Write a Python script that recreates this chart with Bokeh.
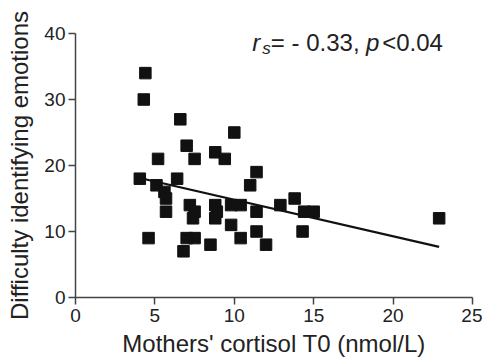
from bokeh.plotting import figure
from bokeh.models import Label, Range1d, FixedTicker
from bokeh.embed import file_html
from bokeh.resources import INLINE

# Data
cortisol = [4.4, 4.3, 6.6, 10.0, 7.0, 8.8, 5.2, 7.5, 9.4, 4.05, 6.4, 5.1, 11.0, 11.4,
            5.6, 5.7, 13.8, 7.2, 8.8, 9.8, 10.4, 12.9, 5.7, 7.5, 8.9, 11.4, 14.4, 15.0,
            7.4, 8.8, 22.9, 9.8, 11.4, 14.3, 4.6, 7.0, 7.5, 10.4, 8.5, 12.0, 6.8]
difficulty = [34, 30, 27, 25, 23, 22, 21, 21, 21, 18, 18, 17, 17, 19,
              16, 15, 15, 14, 14, 14, 14, 14, 13, 13, 13, 13, 13, 13,
              12, 12, 12, 11, 10, 10, 9, 9, 9, 9, 8, 8, 7]
fit_x = [4.05, 22.9]
fit_y = [18.1, 7.66]
x_ticks = [0, 5, 10, 15, 20, 25]
y_ticks = [0, 10, 20, 30, 40]

FONT = "Liberation Sans"
TXT = "#222222"

p = figure(width=482, height=361, output_backend="svg", toolbar_location=None,
           x_range=Range1d(0, 25), y_range=Range1d(0, 40),
           min_border_left=75, min_border_right=10, min_border_top=33, min_border_bottom=64)
p.outline_line_color = None
p.xgrid.visible = False
p.ygrid.visible = False
p.background_fill_color = "white"
p.border_fill_color = "white"

p.scatter(cortisol, difficulty, marker="square", size=11.5, fill_color="#111111",
          line_color="#111111")
p.line(fit_x, fit_y, line_color="#111111", line_width=2.2)

for ax, ticks in ((p.xaxis[0], x_ticks), (p.yaxis[0], y_ticks)):
    ax.ticker = FixedTicker(ticks=ticks)
    ax.minor_tick_line_color = None
    ax.major_tick_in = 0
    ax.major_tick_out = 7
    ax.axis_line_color = "#444444"
    ax.axis_line_width = 1.5
    ax.major_tick_line_color = "#444444"
    ax.major_tick_line_width = 1.5
    ax.major_label_text_font = FONT
    ax.major_label_text_font_size = "19px"
    ax.major_label_text_color = TXT
    ax.axis_label_text_font = FONT
    ax.axis_label_text_font_size = "24px"
    ax.axis_label_text_font_style = "normal"
    ax.axis_label_text_color = TXT

p.xaxis.axis_label = "Mothers' cortisol T0 (nmol/L)"
p.yaxis.axis_label = "Difficulty identifying emotions"
p.xaxis.major_label_standoff = 4
p.yaxis.major_label_standoff = 3
p.xaxis.axis_label_standoff = 5
p.yaxis.axis_label_standoff = 8

pieces = [
    (11.13, 38.6, "r", "italic", "24px"),
    (11.76, 37.8, "s", "italic", "17px"),
    (12.30, 38.6, "= - 0.33,", "normal", "24px"),
    (18.30, 38.6, "p", "italic", "24px"),
    (19.31, 38.6, "<0.04", "normal", "24px"),
]
for x, y, t, style, size in pieces:
    p.add_layout(Label(x=x, y=y, text=t, text_font=FONT, text_font_style=style,
                       text_font_size=size, text_color=TXT, text_baseline="alphabetic",
                       text_align="left"))

open("out.html", "w").write(file_html(p, INLINE))
